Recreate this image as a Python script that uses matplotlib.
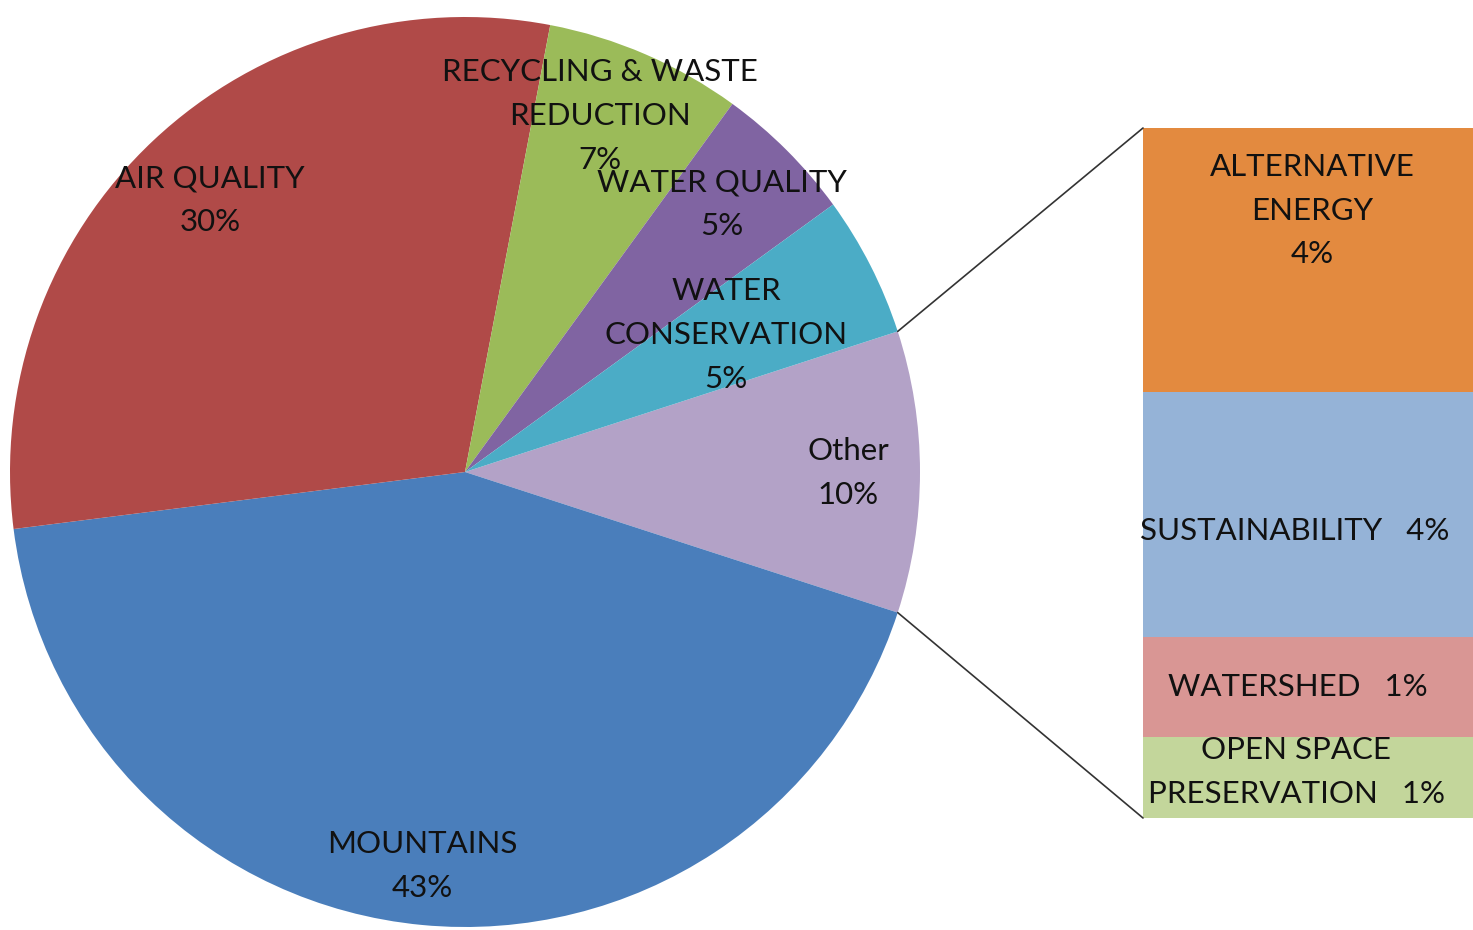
import matplotlib
matplotlib.use("Agg")
import matplotlib.pyplot as plt
from matplotlib.patches import ConnectionPatch
import numpy as np

# ---- data ----
pie_labels = ["Other", "MOUNTAINS", "AIR QUALITY", "RECYCLING & WASTE\nREDUCTION",
              "WATER QUALITY", "WATER\nCONSERVATION"]
pie_values = [10, 43, 30, 7, 5, 5]
pie_colors = ["#B3A2C7", "#4A7EBB", "#B04A48", "#9BBB59", "#8064A2", "#4BACC6"]

bar_labels = ["ALTERNATIVE\nENERGY\n4%", "SUSTAINABILITY   4%", "WATERSHED   1%",
              "OPEN SPACE\nPRESERVATION   1%"]
bar_values = [3.83, 3.55, 1.45, 1.17]
bar_colors = ["#E38A3F", "#95B3D7", "#D99694", "#C3D69B"]

W, H = 1473, 930
fig = plt.figure(figsize=(W / 100, H / 100), dpi=100)
ax = fig.add_axes([0, 0, 1, 1])

cx, cy, r = 465, H - 472, 455
wedges, _ = ax.pie(pie_values, colors=pie_colors, startangle=18, counterclock=False,
                   center=(cx, cy), radius=r, frame=True,
                   wedgeprops=dict(linewidth=0))
ax.set_xlim(0, W)
ax.set_ylim(0, H)
ax.set_aspect("equal")
ax.axis("off")

font = dict(family="Lato", fontsize=22.5, color="#111111", ha="center", va="center",
            linespacing=1.68)

# pie label layout (pixel positions, top-left origin)
pie_label_pos = [(848, 473), (422, 866), (210, 200), (600, 116), (722, 204), (726, 335)]
for lab, val, (px, py) in zip(pie_labels, pie_values, pie_label_pos):
    ax.text(px, H - py, f"{lab}\n{val}%", **font)

# bar of "Other"
bax = fig.add_axes([1143 / W, (H - 818) / H, (W - 1143) / W + 0.01, 690 / H])
total = sum(bar_values)
bottoms = total - np.cumsum(bar_values)
for v, b, c in zip(bar_values, bottoms, bar_colors):
    bax.bar([0], [v], bottom=b, width=1, color=c, align="edge", linewidth=0)
bax.set_xlim(0, 1)
bax.set_ylim(0, total)
bax.axis("off")

bar_label_x = [0.49, 0.44, 0.45, 0.445]
bar_label_y = [8.80, 4.16, 1.90, 0.67]
for lab, bx, by in zip(bar_labels, bar_label_x, bar_label_y):
    bax.text(bx, by, lab, **font)

# connector lines
w0 = wedges[0]
for ang, ytarget in [(w0.theta2, total), (w0.theta1, 0)]:
    a = np.deg2rad(ang)
    p = (cx + r * np.cos(a), cy + r * np.sin(a))
    con = ConnectionPatch(xyA=p, coordsA=ax.transData, xyB=(0, ytarget),
                          coordsB=bax.transData, color="#333333", linewidth=1.2)
    fig.add_artist(con)

fig.savefig("out.png", dpi=100)
